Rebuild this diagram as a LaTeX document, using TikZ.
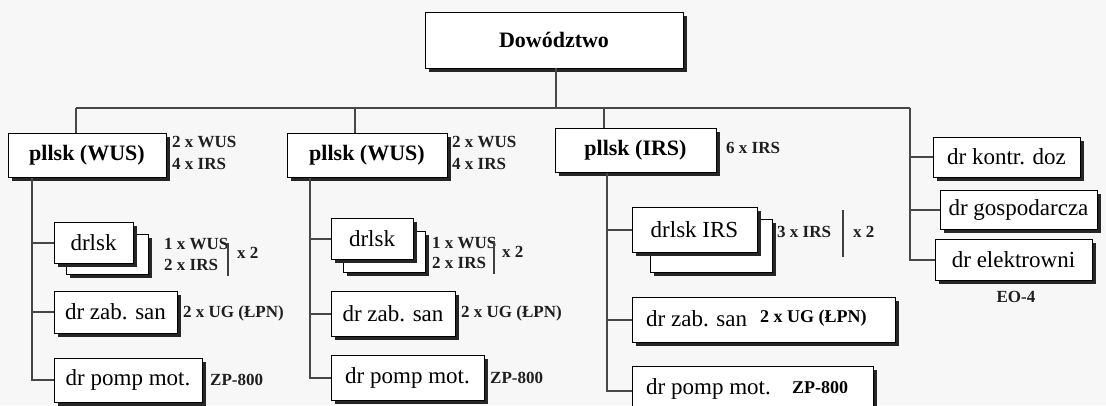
\documentclass[tikz,border=0pt]{standalone}
\usepackage{fontspec}
\setmainfont{Liberation Serif}
\usetikzlibrary{shadows}
\newcommand\bx[7][]{\node[box,#1,minimum width={(#4-#2)*1pt},minimum height={(#5-#3)*1pt}] (#7) at ({(#2+#4)/2},{(#3+#5)/2}) {#6};}
\begin{document}
\begin{tikzpicture}[x=1pt,y=-1pt,
  box/.style={draw=black,line width=0.9pt,fill=white,inner sep=1pt,
    font=\fontsize{23}{25}\selectfont,
    drop shadow={shadow xshift=3.5pt,shadow yshift=-3.5pt,opacity=1,fill=black!85}},
  bold/.style={font=\bfseries\fontsize{22}{24}\selectfont},
  intext/.style={anchor=west,inner sep=0pt,font=\fontsize{23}{25}\selectfont},
  inlab/.style={anchor=west,inner sep=0pt,font=\bfseries\fontsize{18}{20}\selectfont},
  lab/.style={anchor=west,inner sep=0pt,font=\bfseries\fontsize{17}{19}\selectfont,text=black!88},
  conn/.style={draw=black!72,line width=2pt},
  bar/.style={draw=black!75,line width=1.5pt}]
\useasboundingbox (0,0) rectangle (1106,405);
\clip (0,0) rectangle (1106,405);
\fill[gray!6] (0,0) rectangle (1106,405);

% top
\bx[bold]{425}{12}{683}{68}{Dowództwo}{dow}
\coordinate (busL) at (76,108);
\coordinate (busR) at (910,108);
\coordinate (busM) at (556,108);
\coordinate (drop2) at (355,108);
\coordinate (drop3) at (604,108);

% level 1
\bx[bold]{8}{133}{166}{177}{pllsk (WUS)}{p1}
\bx[bold]{287}{133}{447}{177}{pllsk (WUS)}{p2}
\bx[bold]{555}{128}{716}{172}{pllsk (IRS)}{p3}
\node[lab] (p1a) at (172,142) {2 x WUS};
\node[lab] (p1b) at (172,164) {4 x IRS};
\node[lab] (p2a) at (452,142) {2 x WUS};
\node[lab] (p2b) at (452,164) {4 x IRS};
\node[lab] (p3a) at (726,148) {6 x IRS};

% right column
\bx{933}{137}{1080}{177}{dr kontr. doz}{ko}
\bx{940}{190}{1097}{229}{dr gospodarcza}{go}
\bx{935}{239}{1092}{280}{dr elektrowni}{el}
\node[lab,anchor=center] (eo) at (1016,297) {EO-4};

% column 1
\bx{66}{234}{148}{274}{}{d1b}
\bx{54}{222}{133}{263}{drlsk}{d1}
\node[lab] (d1a) at (164,244) {1 x WUS};
\node[lab] (d1c) at (164,265) {2 x IRS};
\coordinate (b1t) at (228,243);
\coordinate (b1b) at (228,276);
\node[lab] (d1x) at (237,253) {x 2};
\bx{54}{291}{177}{333}{dr zab. san}{z1}
\node[lab] (z1a) at (183,313) {2 x UG (ŁPN)};
\bx{54}{358}{202}{402}{dr pomp mot.}{m1}
\node[lab] (m1a) at (210,380) {ZP-800};

% column 2
\bx{343}{231}{425}{272}{}{d2b}
\bx{331}{218}{413}{259}{drlsk}{d2}
\node[lab] (d2a) at (432,243) {1 x WUS};
\node[lab] (d2c) at (432,263) {2 x IRS};
\coordinate (b2t) at (494,241);
\coordinate (b2b) at (494,274);
\node[lab] (d2x) at (502,252) {x 2};
\bx{331}{291}{455}{336}{dr zab. san}{z2}
\node[lab] (z2a) at (461,313) {2 x UG (ŁPN)};
\bx{331}{355}{484}{400}{dr pomp mot.}{m2}
\node[lab] (m2a) at (490,378) {ZP-800};

% column 3
\bx{650}{219}{772}{272}{}{d3b}
\bx{632}{207}{757}{252}{drlsk IRS}{d3}
\node[lab] (d3a) at (777,232) {3 x IRS};
\coordinate (b3t) at (843,210);
\coordinate (b3b) at (843,257);
\node[lab] (d3x) at (853,232) {x 2};
\bx{632}{297}{895}{342}{}{z3}
\node[intext] (z3t) at (646,319) {dr zab. san};
\node[inlab] (z3a) at (760,318) {2 x UG (ŁPN)};
\bx{632}{366}{873}{430}{}{m3}
\node[intext] (m3t) at (646,389) {dr pomp mot.};
\node[inlab] (m3a) at (792,388) {ZP-800};

% connectors
\begin{scope}[on background layer/.style={}]
\draw[conn] (dow.south -| busM) -- (busM);
\draw[conn] (busL) -- (busR);
\draw[conn] (busL) -- (busL |- p1.north);
\draw[conn] (drop2) -- (drop2 |- p2.north);
\draw[conn] (drop3) -- (drop3 |- p3.north);
\draw[conn] (busR) |- (ko.west);
\draw[conn] (busR |- go.west) -- (go.west);
\draw[conn] (busR) |- (el.west);

\coordinate (c1) at (32,178);
\draw[conn] (c1) |- (d1.west);
\draw[conn] (c1) |- (z1.west);
\draw[conn] (c1) |- (m1.west);
\coordinate (c2) at (310,178);
\draw[conn] (c2) |- (d2.west);
\draw[conn] (c2) |- (z2.west);
\draw[conn] (c2) |- (m2.west);
\coordinate (c3) at (607,173);
\coordinate (m3w) at (632,391);
\draw[conn] (c3) |- (d3.west);
\draw[conn] (c3) |- (z3.west);
\draw[conn] (c3) |- (m3w);
\end{scope}

\draw[bar] (b1t) -- (b1b);
\draw[bar] (b2t) -- (b2b);
\draw[bar] (b3t) -- (b3b);
\end{tikzpicture}
\end{document}
